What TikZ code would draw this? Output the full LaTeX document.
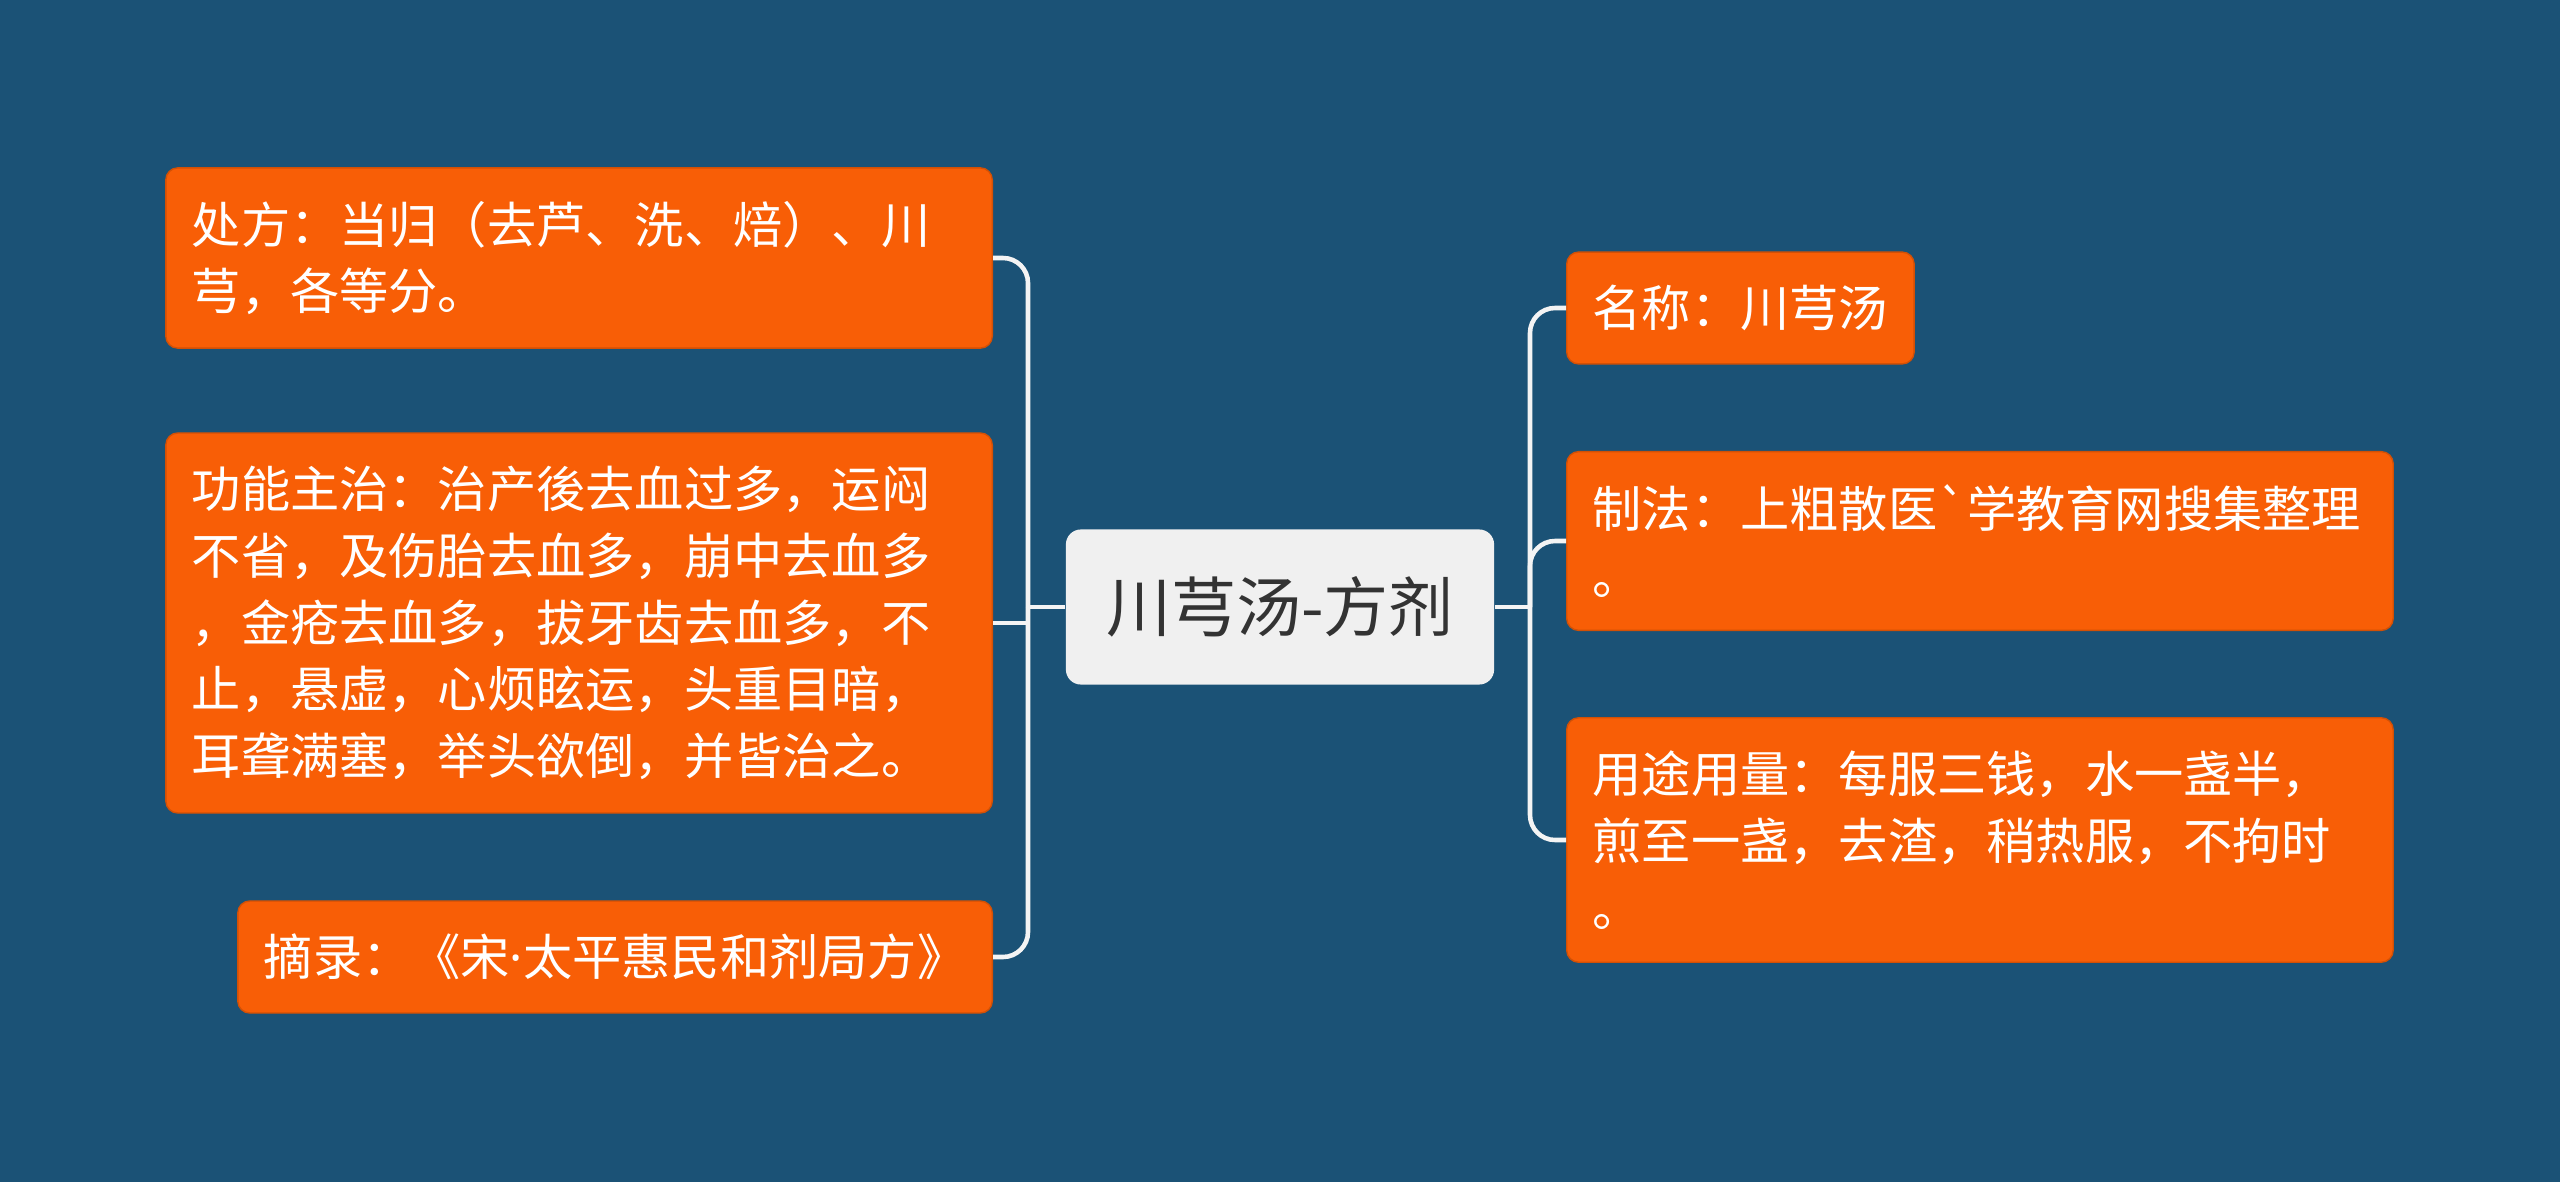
\documentclass[tikz,border=0pt]{standalone}
\usepackage{fontspec}
\setmainfont{Noto Sans CJK SC}[Ligatures=TeXOff]
\newfontfamily\latinfont{Noto Sans}
\definecolor{bgblue}{HTML}{1B5276}
\definecolor{leaforange}{HTML}{F85E06}
\definecolor{rootgray}{HTML}{F0F0F0}
\definecolor{linkwhite}{HTML}{F4F4F4}
\begin{document}
\begin{tikzpicture}[x=0.01cm,y=-0.01cm,
leaf/.style={fill=leaforange,draw=leaforange!85!black,line width=0.4pt,rounded corners=0.12cm,text=white,align=left,inner xsep=0.26cm,inner ysep=0.33cm,font=\fontsize{14pt}{19pt}\selectfont},
wide/.style={leaf,text width=7.74cm},
link/.style={draw=linkwhite,line width=1.3pt,rounded corners=0.25cm}]
\fill[bgblue](0,0)rectangle(2560,1182);
\useasboundingbox(0,0)rectangle(2560,1182);
\node[fill=rootgray,rounded corners=0.15cm,minimum width=4.28cm,minimum height=1.55cm,text=black!80,font=\fontsize{18.5pt}{22pt}\selectfont](root)at(1280,607){川芎汤-方剂};
\node[wide,anchor=east](chufang)at(993,258){处方：当归（去芦、洗、焙）、川\\芎，各等分。};
\node[wide,anchor=east](gongneng)at(993,623){功能主治：治产後去血过多，运闷\\不省，及伤胎去血多，崩中去血多\\，金疮去血多，拔牙齿去血多，不\\止，悬虚，心烦眩运，头重目暗，\\耳聋满塞，举头欲倒，并皆治之。};
\node[leaf,anchor=east](zhailu)at(993,957){摘录：《宋{\latinfont ·}太平惠民和剂局方》};
\node[leaf,anchor=west](mingcheng)at(1566,308){名称：川芎汤};
\node[wide,anchor=west](zhifa)at(1566,541){制法：上粗散医`学教育网搜集整理\\。};
\node[wide,anchor=west](yongtu)at(1566,840){用途用量：每服三钱，水一盏半，\\煎至一盏，去渣，稍热服，不拘时\\。};
\coordinate(lx)at(1028,607);
\coordinate(rx)at(1530,607);
\draw[link](root.west)--(lx);
\draw[link](lx)|-(chufang.east);
\draw[link](lx)|-(zhailu.east);
\draw[link](gongneng.east)--(lx|-gongneng.east);
\draw[link](root.east)--(rx);
\draw[link](rx)|-(mingcheng.west);
\draw[link](rx)|-(zhifa.west);
\draw[link](rx)|-(yongtu.west);
\end{tikzpicture}
\end{document}
